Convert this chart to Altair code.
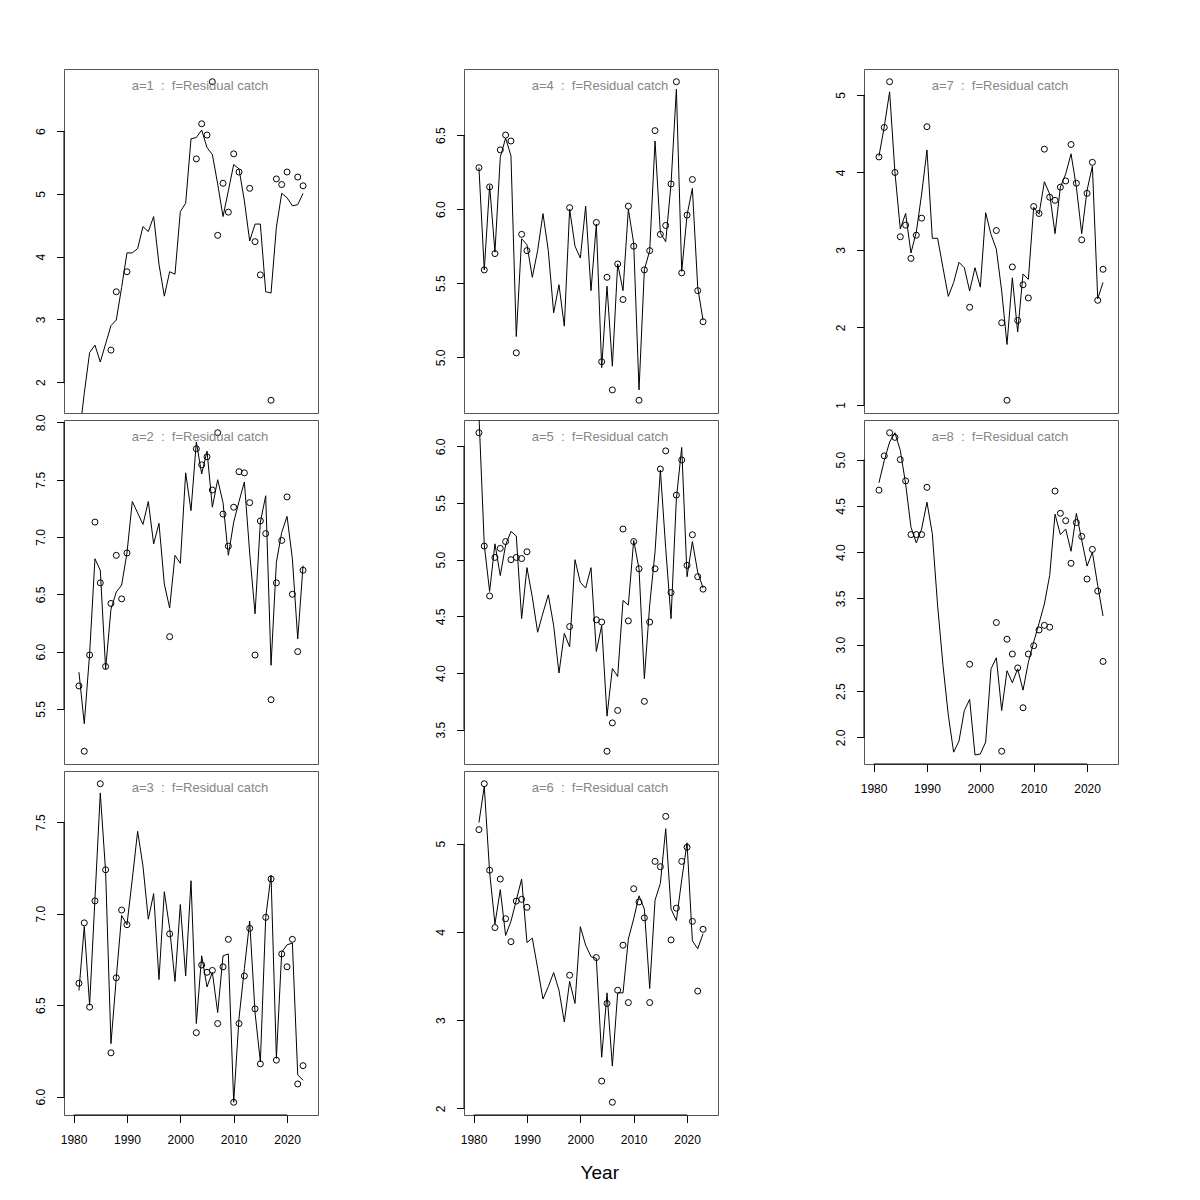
import altair as alt
import pandas as pd

years = list(range(1981, 2024))
N = None

fit_a1 = [1.10, 1.82, 2.47, 2.59, 2.32, 2.61, 2.90, 2.99, 3.51, 4.06,
          4.06, 4.13, 4.48, 4.40, 4.64, 3.88, 3.37, 3.76, 3.72, 4.72,
          4.85, 5.88, 5.90, 6.02, 5.74, 5.63, 5.16, 4.64, 5.05, 5.47,
          5.40, 4.89, 4.25, 4.52, 4.52, 3.44, 3.42, 4.47, 5.01, 4.94,
          4.81, 4.83, 5.01]
obs_a1 = [N, N, N, N, N, N, 2.51, 3.44, N, 3.76,
          N, N, N, N, N, N, N, N, N, N,
          N, N, 5.56, 6.12, 5.94, 6.79, 4.34, 5.17, 4.71, 5.64,
          5.35, N, 5.09, 4.24, 3.71, N, 1.71, 5.24, 5.15, 5.35,
          N, 5.27, 5.13]

fit_a2 = [5.82, 5.37, 5.98, 6.81, 6.71, 5.85, 6.37, 6.52, 6.58, 6.86,
          7.31, 7.21, 7.11, 7.31, 6.94, 7.12, 6.59, 6.38, 6.84, 6.77,
          7.56, 7.23, 7.83, 7.55, 7.75, 7.26, 7.50, 7.30, 6.84, 7.13,
          7.31, 7.48, 6.86, 6.33, 7.13, 7.36, 5.88, 6.78, 7.04, 7.18,
          6.81, 6.11, 6.75]
obs_a2 = [5.70, 5.13, 5.97, 7.13, 6.60, 5.87, 6.42, 6.84, 6.46, 6.86,
          N, N, N, N, N, N, N, 6.13, N, N,
          N, N, 7.77, 7.63, 7.70, 7.41, 7.91, 7.20, 6.92, 7.26,
          7.57, 7.56, 7.30, 5.97, 7.14, 7.03, 5.58, 6.60, 6.97, 7.35,
          6.50, 6.00, 6.71]

fit_a3 = [6.58, 6.93, 6.50, 7.08, 7.66, 7.23, 6.29, 6.65, 6.99, 6.94,
          7.19, 7.45, 7.26, 6.97, 7.11, 6.64, 7.12, 6.92, 6.63, 7.05,
          6.66, 7.18, 6.40, 6.77, 6.60, 6.68, 6.46, 6.77, 6.78, 5.97,
          6.43, 6.70, 6.96, 6.46, 6.19, 6.98, 7.21, 6.21, 6.79, 6.83,
          6.84, 6.12, 6.09]
obs_a3 = [6.62, 6.95, 6.49, 7.07, 7.71, 7.24, 6.24, 6.65, 7.02, 6.94,
          N, N, N, N, N, N, N, 6.89, N, N,
          N, N, 6.35, 6.72, 6.68, 6.69, 6.40, 6.71, 6.86, 5.97,
          6.40, 6.66, 6.92, 6.48, 6.18, 6.98, 7.19, 6.20, 6.78, 6.71,
          6.86, 6.07, 6.17]

fit_a4 = [6.28, 5.59, 6.16, 5.71, 6.35, 6.48, 6.36, 5.14, 5.80, 5.76,
          5.54, 5.72, 5.97, 5.72, 5.30, 5.49, 5.21, 6.00, 5.75, 5.67,
          6.02, 5.45, 5.90, 4.93, 5.48, 4.94, 5.63, 5.45, 6.00, 5.77,
          4.78, 5.59, 5.72, 6.46, 5.84, 5.78, 6.17, 6.81, 5.58, 5.96,
          6.14, 5.47, 5.25]
obs_a4 = [6.28, 5.59, 6.15, 5.70, 6.40, 6.50, 6.46, 5.03, 5.83, 5.72,
          N, N, N, N, N, N, N, 6.01, N, N,
          N, N, 5.91, 4.97, 5.54, 4.78, 5.63, 5.39, 6.02, 5.75,
          4.71, 5.59, 5.72, 6.53, 5.83, 5.89, 6.17, 6.86, 5.57, 5.96,
          6.20, 5.45, 5.24]

fit_a5 = [6.28, 5.13, 4.72, 5.14, 4.86, 5.13, 5.25, 5.21, 4.48, 4.93,
          4.67, 4.36, 4.53, 4.69, 4.42, 4.00, 4.35, 4.23, 5.00, 4.80,
          4.75, 4.93, 4.19, 4.42, 3.62, 4.04, 3.97, 4.64, 4.60, 5.17,
          4.92, 3.95, 4.60, 5.07, 5.79, 5.10, 4.48, 5.54, 5.99, 4.85,
          5.16, 4.89, 4.75]
obs_a5 = [6.12, 5.12, 4.68, 5.02, 5.10, 5.16, 5.00, 5.02, 5.01, 5.07,
          N, N, N, N, N, N, N, 4.41, N, N,
          N, N, 4.47, 4.45, 3.31, 3.56, 3.67, 5.27, 4.46, 5.16,
          4.92, 3.75, 4.45, 4.92, 5.80, 5.96, 4.71, 5.57, 5.88, 4.95,
          5.22, 4.85, 4.74]

fit_a6 = [5.24, 5.65, 4.68, 4.09, 4.48, 3.96, 4.12, 4.36, 4.60, 3.88,
          3.93, 3.59, 3.24, 3.38, 3.54, 3.34, 2.98, 3.44, 3.19, 4.06,
          3.85, 3.72, 3.70, 2.58, 3.31, 2.48, 3.31, 3.31, 3.92, 4.15,
          4.41, 4.26, 3.36, 4.36, 4.55, 5.17, 4.26, 4.13, 4.59, 5.01,
          3.90, 3.81, 3.98]
obs_a6 = [5.16, 5.68, 4.70, 4.05, 4.60, 4.15, 3.89, 4.35, 4.37, 4.28,
          N, N, N, N, N, N, N, 3.51, N, N,
          N, N, 3.71, 2.31, 3.19, 2.07, 3.34, 3.85, 3.20, 4.49,
          4.34, 4.16, 3.20, 4.80, 4.74, 5.31, 3.91, 4.27, 4.80, 4.96,
          4.12, 3.33, 4.03]

fit_a7 = [4.21, 4.59, 5.04, 4.00, 3.27, 3.47, 2.96, 3.23, 3.72, 4.29,
          3.15, 3.15, 2.77, 2.40, 2.58, 2.84, 2.77, 2.47, 2.77, 2.52,
          3.48, 3.20, 3.01, 2.47, 1.78, 2.64, 1.94, 2.69, 2.62, 3.55,
          3.46, 3.88, 3.72, 3.21, 3.81, 3.98, 4.24, 3.81, 3.21, 3.77,
          4.08, 2.37, 2.58]
obs_a7 = [4.20, 4.58, 5.17, 4.00, 3.17, 3.32, 2.89, 3.19, 3.41, 4.59,
          N, N, N, N, N, N, N, 2.26, N, N,
          N, N, 3.25, 2.06, 1.06, 2.78, 2.09, 2.55, 2.38, 3.56,
          3.47, 4.30, 3.68, 3.64, 3.81, 3.89, 4.36, 3.86, 3.13, 3.73,
          4.13, 2.35, 2.75]

fit_a8 = [4.75, 4.99, 5.19, 5.29, 5.10, 4.74, 4.27, 4.10, 4.25, 4.54,
          4.20, 3.42, 2.78, 2.24, 1.84, 1.96, 2.29, 2.41, 1.81, 1.82,
          1.95, 2.74, 2.86, 2.29, 2.72, 2.59, 2.74, 2.51, 2.81, 3.03,
          3.23, 3.44, 3.75, 4.41, 4.19, 4.25, 4.01, 4.42, 4.13, 3.85,
          4.00, 3.64, 3.31]
obs_a8 = [4.67, 5.04, 5.29, 5.24, 5.00, 4.77, 4.19, 4.19, 4.19, 4.70,
          N, N, N, N, N, N, N, 2.79, N, N,
          N, N, 3.24, 1.85, 3.06, 2.90, 2.75, 2.32, 2.90, 2.99,
          3.16, 3.21, 3.19, 4.66, 4.42, 4.34, 3.88, 4.32, 4.17, 3.71,
          4.03, 3.58, 2.82]

ticks_a1 = [2, 3, 4, 5, 6]
ticks_a2 = [5.5, 6.0, 6.5, 7.0, 7.5, 8.0]
ticks_a3 = [6.0, 6.5, 7.0, 7.5]
ticks_a4 = [5.0, 5.5, 6.0, 6.5]
ticks_a5 = [3.5, 4.0, 4.5, 5.0, 5.5, 6.0]
ticks_a6 = [2, 3, 4, 5]
ticks_a7 = [1, 2, 3, 4, 5]
ticks_a8 = [2.0, 2.5, 3.0, 3.5, 4.0, 4.5, 5.0]
xticks = [1980, 1990, 2000, 2010, 2020]
fleet = "Residual catch"
xlabel = "Year"

FONT = "Liberation Sans"
W, H = 254, 344
XDOM = [1978.2, 2025.8]


def panel(a, fit, obs, ticks, fmt, xaxis=False, xtitle=False):
    df = pd.DataFrame({"year": years, "fit": fit, "obs": obs})
    vals = [v for v in obs if v is not None]
    lo, hi = min(vals), max(vals)
    ext = 0.04 * (hi - lo)
    xscale = alt.Scale(domain=XDOM, nice=False, zero=False)
    yscale = alt.Scale(domain=[lo - ext, hi + ext], nice=False, zero=False)

    yax = alt.Axis(values=ticks, format=fmt, domain=False, grid=False,
                   tickSize=7.5, tickColor="black", tickWidth=1,
                   labelAngle=270, labelAlign="center", labelBaseline="alphabetic",
                   labelPadding=12, labelFont=FONT, labelFontSize=12,
                   labelColor="black")
    if xaxis:
        kw = dict(values=xticks, format="d", domain=False, grid=False,
                  tickSize=7.5, tickColor="black", tickWidth=1,
                  labelPadding=12, labelBaseline="top", labelFont=FONT,
                  labelFontSize=12, labelColor="black", labelFlush=False)
        if xtitle:
            kw.update(title=xlabel, titleFont=FONT, titleFontSize=19,
                      titleFontWeight="normal", titleColor="black",
                      titleX=135.3, titleY=63, titleAlign="center",
                      titleBaseline="alphabetic")
        xax = alt.Axis(**kw)
        xt = xlabel if xtitle else None
    else:
        xax = None
        xt = None

    def X(field):
        return alt.X(field, scale=xscale, axis=xax, title=xt)

    def Y(field):
        return alt.Y(field, scale=yscale, axis=yax, title=None)

    line = alt.Chart(df).mark_line(color="black", strokeWidth=1, clip=True).encode(
        x=X("year:Q"), y=Y("fit:Q"))
    pts = alt.Chart(df).transform_filter("isValid(datum.obs) && isFinite(datum.obs)").mark_point(
        shape="circle", filled=False, color="black", size=36, strokeWidth=1, clip=True,
        opacity=1).encode(x=X("year:Q"), y=Y("obs:Q"))
    label = f"a={a}\u00a0\u00a0:\u00a0\u00a0f={fleet}"
    txt = alt.Chart(pd.DataFrame({"label": [label]})).mark_text(
        font=FONT, fontSize=13, color="#858585", align="center",
        baseline="alphabetic").encode(
        x=alt.value(136), y=alt.value(20.5), text="label:N")
    yrule = alt.Chart(pd.DataFrame({"lo": [ticks[0]], "hi": [ticks[-1]]})).mark_rule(
        color="black", strokeWidth=1).encode(
        x=alt.value(0), y=Y("lo:Q"), y2="hi:Q")
    layers = [line, pts, txt, yrule]
    if xaxis:
        xrule = alt.Chart(pd.DataFrame({"lo": [xticks[0]], "hi": [xticks[-1]]})).mark_rule(
            color="black", strokeWidth=1).encode(
            x=X("lo:Q"), x2="hi:Q", y=alt.value(H))
        layers.append(xrule)
    return alt.layer(*layers).properties(width=W, height=H)


p1 = panel(1, fit_a1, obs_a1, ticks_a1, "d")
p2 = panel(2, fit_a2, obs_a2, ticks_a2, ".1f")
p3 = panel(3, fit_a3, obs_a3, ticks_a3, ".1f", xaxis=True)
p4 = panel(4, fit_a4, obs_a4, ticks_a4, ".1f")
p5 = panel(5, fit_a5, obs_a5, ticks_a5, ".1f")
p6 = panel(6, fit_a6, obs_a6, ticks_a6, "d", xaxis=True, xtitle=True)
p7 = panel(7, fit_a7, obs_a7, ticks_a7, "d")
p8 = panel(8, fit_a8, obs_a8, ticks_a8, ".1f", xaxis=True)

# row-major grid: a=1, a=4, a=7 / a=2, a=5, a=8 / a=3, a=6
chart = alt.concat(p1, p4, p7, p2, p5, p8, p3, p6, columns=3,
                   spacing={"row": 7, "column": 146}, bounds="flush").properties(
    padding={"left": 25, "top": 60, "right": 10, "bottom": 10},
    background="white"
).configure_view(stroke="#555555", strokeWidth=1)

chart.save("out.html", embed_options={"renderer": "svg", "actions": False})
